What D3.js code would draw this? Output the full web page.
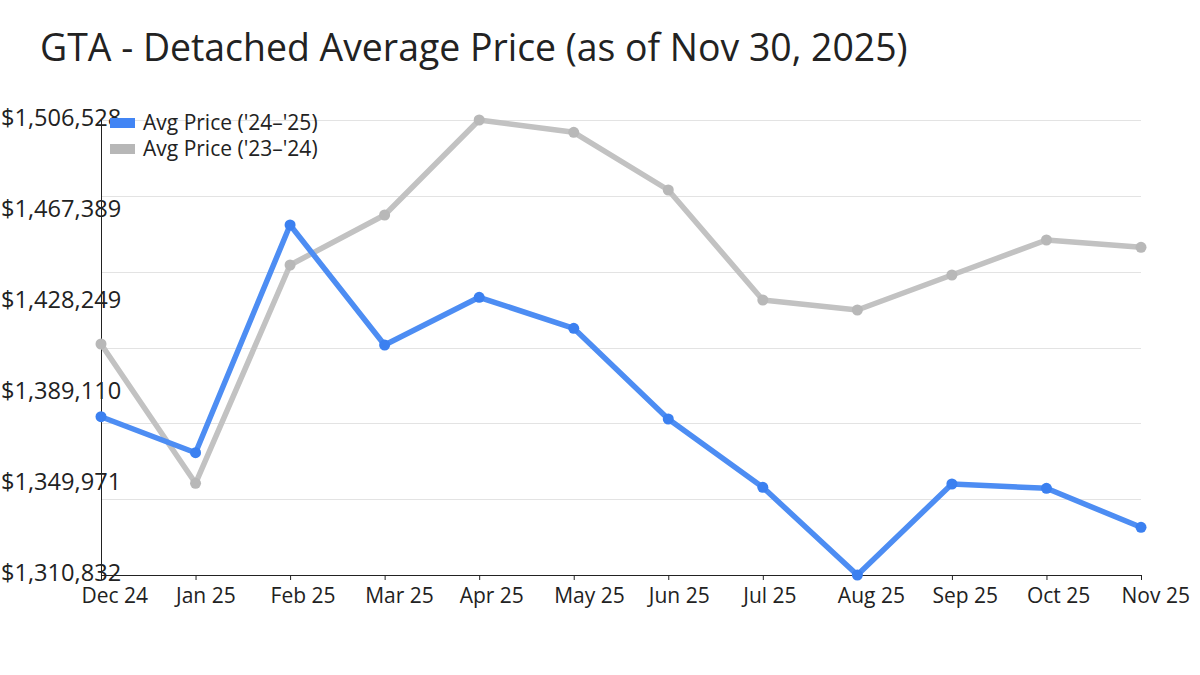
<!DOCTYPE html>
<html>
<head>
<meta charset="utf-8">
<script src="https://cdn.jsdelivr.net/npm/d3@7"></script>
<style>
  body { margin: 0; background: #fff; }
  text { font-family: 'Open Sans', sans-serif; fill: #222; }
</style>
</head>
<body>
<script>
// chart data
var months = ['Dec 24', 'Jan 25', 'Feb 25', 'Mar 25', 'Apr 25', 'May 25',
              'Jun 25', 'Jul 25', 'Aug 25', 'Sep 25', 'Oct 25', 'Nov 25'];
var price2425 = [1378917, 1363433, 1461367, 1409755, 1430271, 1416938,
                 1377928, 1348552, 1310832, 1349971, 1348122, 1331348];
var price2324 = [1410185, 1350272, 1444163, 1465668, 1506528, 1501237,
                 1476421, 1429110, 1424809, 1439862, 1454916, 1451776];
var yTickValues = [1310832, 1349971, 1389110, 1428249, 1467389, 1506528];
var seriesNames = ["Avg Price ('24\u2013'25)", "Avg Price ('23\u2013'24)"];

var width = 1200, height = 675;
var margin = { top: 120, right: 59, bottom: 100, left: 101 };
var innerW = width - margin.left - margin.right,
    innerH = height - margin.top - margin.bottom;

var svg = d3.select('body').append('svg')
    .attr('width', width)
    .attr('height', height);

svg.append('text')
    .attr('x', 40)
    .attr('y', 61)
    .style('font-size', '37.4px')
    .text('GTA - Detached Average Price (as of Nov 30, 2025)');

var g = svg.append('g')
    .attr('transform', 'translate(' + margin.left + ',' + margin.top + ')');

var yMin = d3.min(yTickValues), yMax = d3.max(yTickValues);

var x = d3.scalePoint().domain(months).range([0, innerW]);
var y = d3.scaleLinear().domain([yMin, yMax]).range([innerH, 0]);

// gridlines (6 even bands)
var gridValues = d3.range(7).map(function (i) { return yMin + i * (yMax - yMin) / 6; });
g.append('g')
    .selectAll('line')
    .data(gridValues)
    .enter()
    .append('line')
    .attr('x1', 0)
    .attr('x2', innerW)
    .attr('y1', function (d) { return Math.round(y(d)) + 0.5; })
    .attr('y2', function (d) { return Math.round(y(d)) + 0.5; })
    .attr('stroke', '#e3e3e3')
    .attr('stroke-width', 1);

// x axis
var xAxis = g.append('g')
    .attr('transform', 'translate(0,' + innerH + ')')
    .call(d3.axisBottom(x).tickSize(5).tickSizeOuter(0));
xAxis.select('.domain').attr('stroke', '#222');
xAxis.selectAll('.tick line').attr('stroke', '#222');
xAxis.selectAll('.tick text')
    .attr('text-anchor', 'start')
    .attr('x', -20)
    .attr('y', 13)
    .attr('dy', '0.71em')
    .style('font-size', '21px')
    .style('font-family', "'Open Sans', sans-serif")
    .attr('fill', '#222');

// y axis line
g.append('line')
    .attr('x1', 0.5).attr('x2', 0.5)
    .attr('y1', 0).attr('y2', innerH)
    .attr('stroke', '#222');

// y labels, left aligned at the page edge
svg.append('g')
    .selectAll('text')
    .data(yTickValues)
    .enter()
    .append('text')
    .attr('x', 1)
    .attr('y', function (d) { return margin.top + y(d) + 6; })
    .style('font-size', '23.6px')
    .text(function (d) { return '$' + d3.format(',')(d); });

var line = d3.line()
    .x(function (d, i) { return x(months[i]); })
    .y(function (d) { return y(d); });

var series = [
    { values: price2324, line: '#c2c2c2', dot: '#b8b8b8' },
    { values: price2425, line: '#4d8df3', dot: '#3b80f0' }
];

series.forEach(function (s) {
    g.append('path')
        .datum(s.values)
        .attr('fill', 'none')
        .attr('stroke', s.line)
        .attr('stroke-width', 5.5)
        .attr('stroke-linejoin', 'round')
        .attr('d', line);

    g.append('g')
        .selectAll('circle')
        .data(s.values)
        .enter()
        .append('circle')
        .attr('cx', function (d, i) { return x(months[i]); })
        .attr('cy', function (d) { return y(d); })
        .attr('r', 5.5)
        .attr('fill', s.dot);
});

// legend
var legendColors = ['#4285f4', '#b7b7b7'];
var legend = svg.append('g').attr('transform', 'translate(110,118)');
seriesNames.forEach(function (name, i) {
    legend.append('rect')
        .attr('x', 0)
        .attr('y', i * 26)
        .attr('width', 25)
        .attr('height', 10)
        .attr('fill', legendColors[i]);
    legend.append('text')
        .attr('x', 33)
        .attr('y', i * 26 + 12)
        .style('font-size', '21px')
        .text(name);
});
</script>
</body>
</html>
